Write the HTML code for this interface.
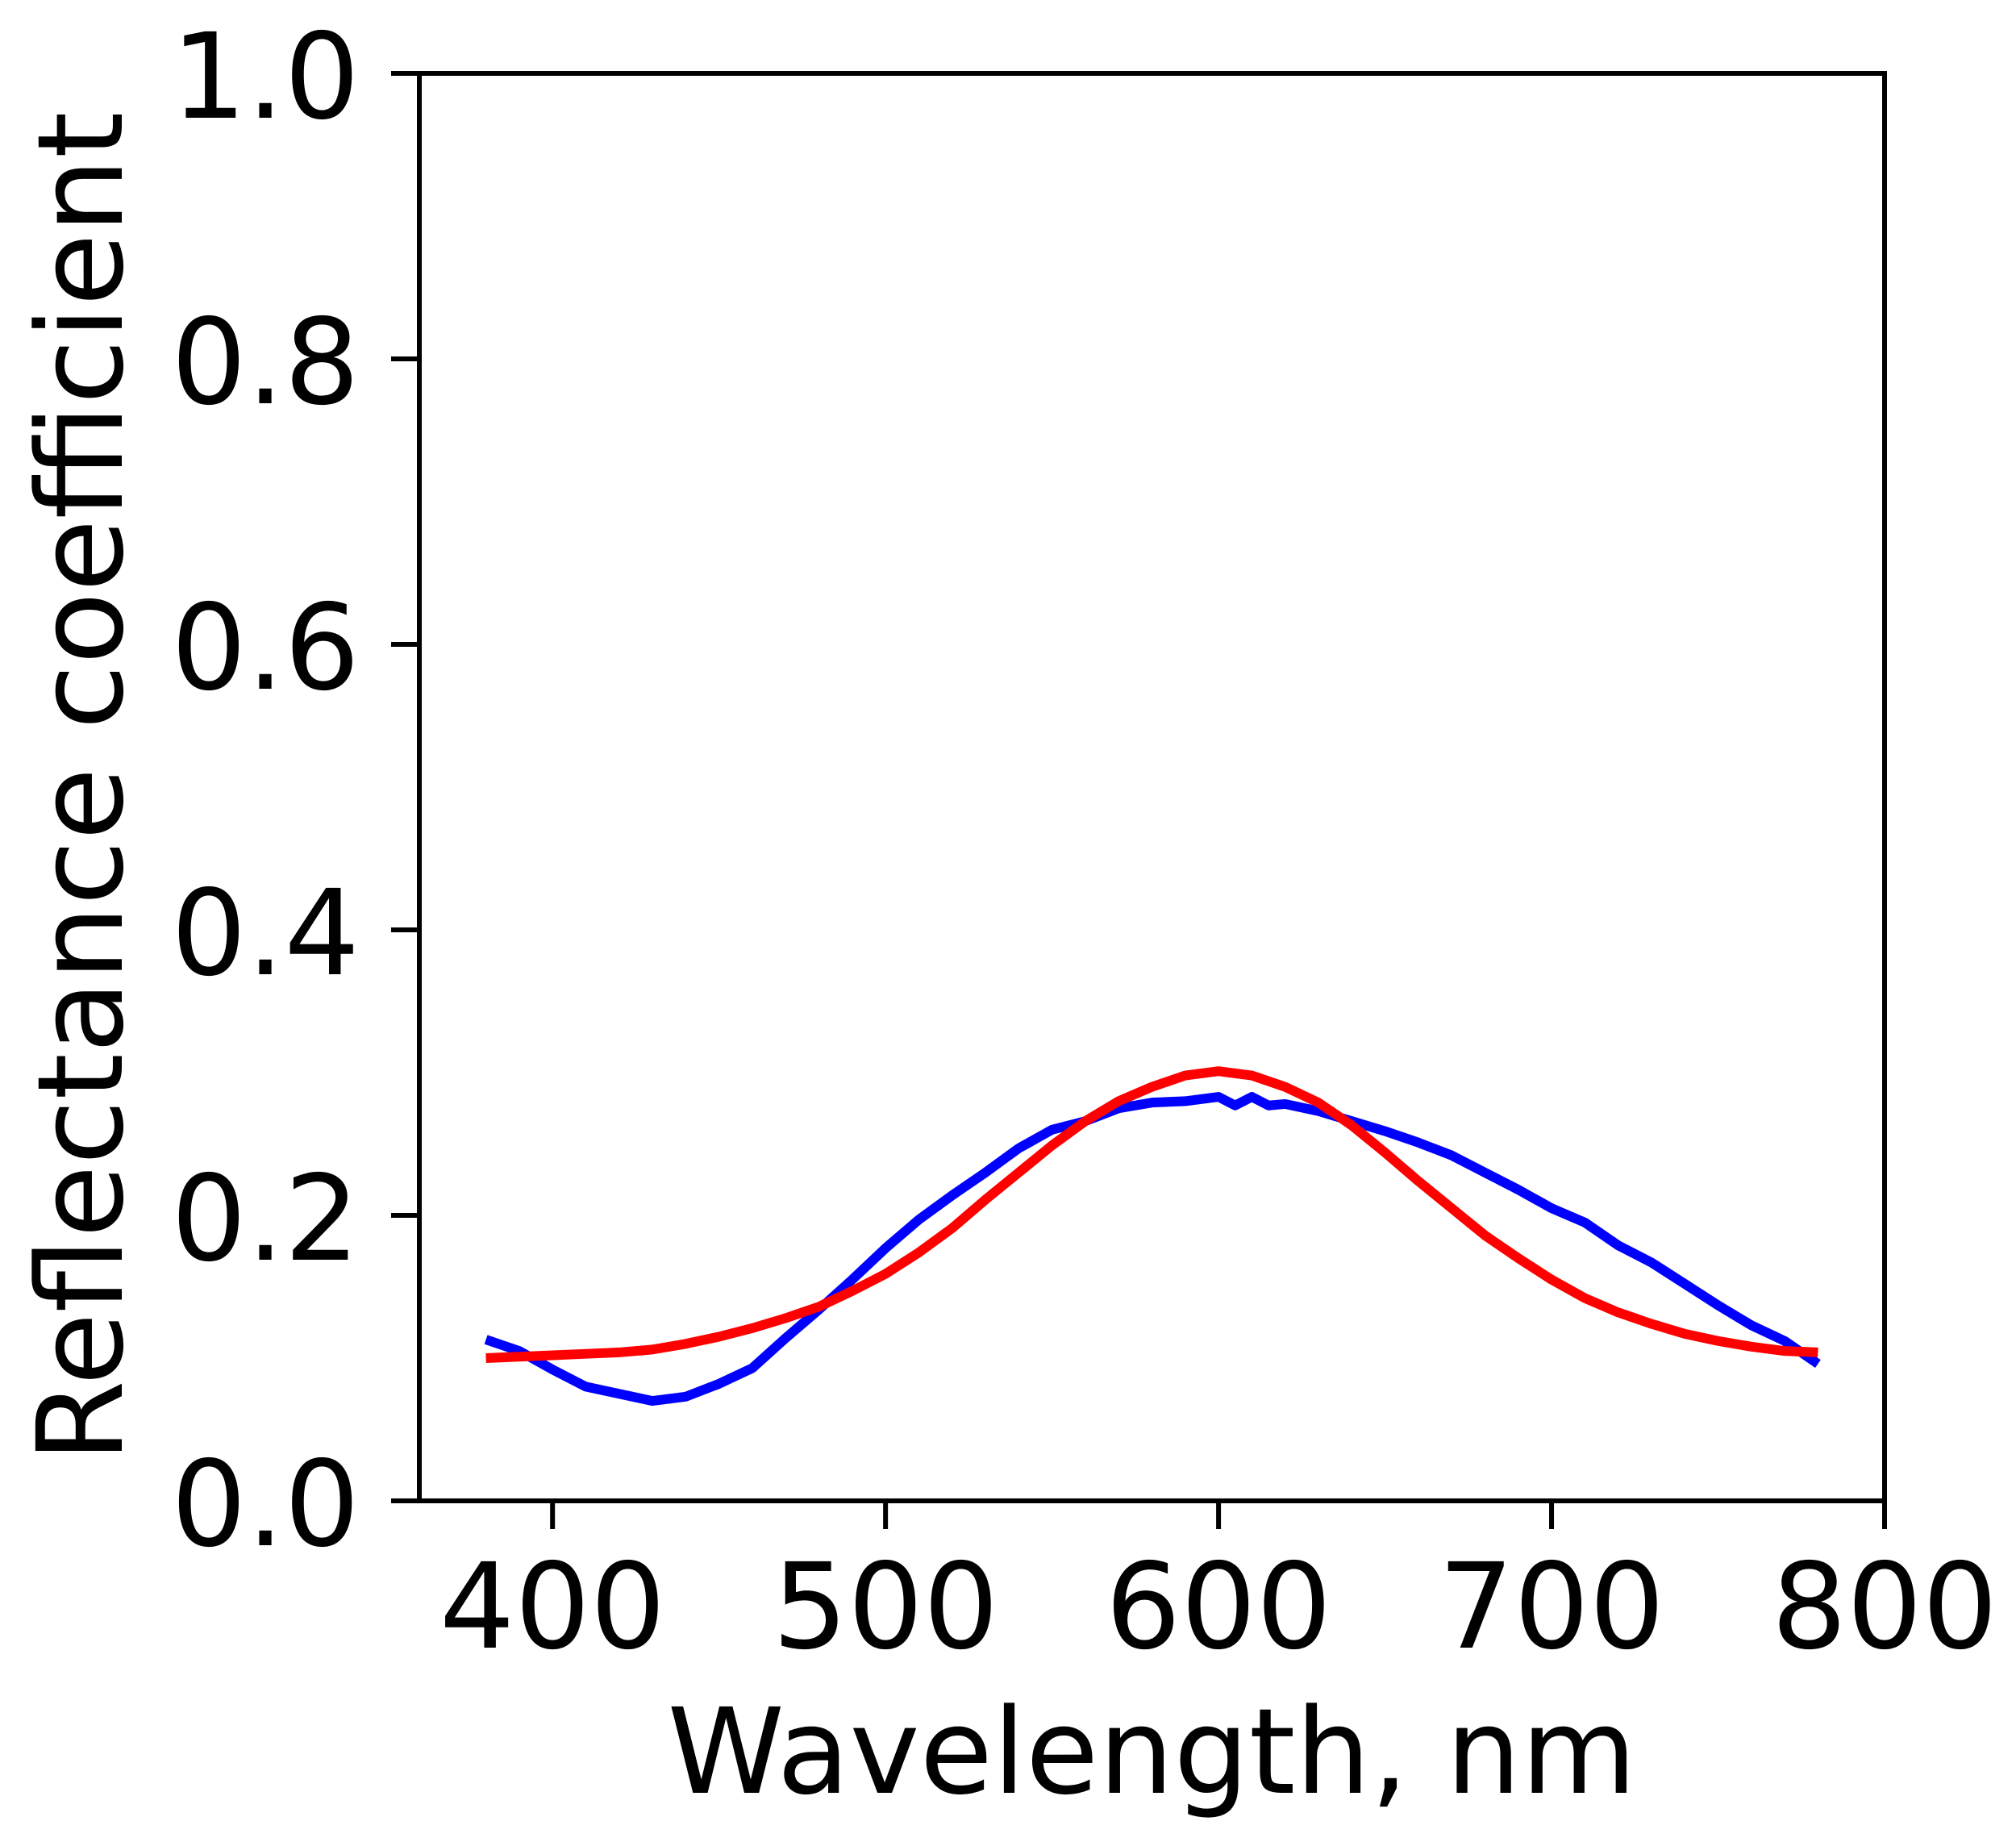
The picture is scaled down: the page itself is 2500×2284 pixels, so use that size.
<!DOCTYPE html>
<html><head><meta charset="utf-8"><style>
html,body{margin:0;padding:0;background:#fff;}
svg{display:block;}
text{font-family:"DejaVu Sans","Liberation Sans",sans-serif;fill:#000;}
</style></head><body>
<svg id="chart" width="2500" height="2284" viewBox="0 0 2500 2284" xmlns="http://www.w3.org/2000/svg">
<g id="plot"></g>
</svg>
<script>
const blueWl = [380,390,400,410,420,430,440,450,460,470,480,490,500,510,520,530,540,550,560,570,580,590,600,605,610,615,620,630,640,650,660,670,680,690,700,710,720,730,740,750,760,770,780];
const blueR = [0.113,0.105,0.092,0.080,0.075,0.070,0.073,0.082,0.093,0.114,0.134,0.155,0.177,0.197,0.214,0.230,0.247,0.260,0.266,0.275,0.279,0.280,0.283,0.277,0.283,0.277,0.278,0.273,0.266,0.259,0.251,0.242,0.230,0.218,0.205,0.195,0.179,0.167,0.152,0.137,0.123,0.112,0.096];
const redWl = [380,390,400,410,420,430,440,450,460,470,480,490,500,510,520,530,540,550,560,570,580,590,600,610,620,630,640,650,660,670,680,690,700,710,720,730,740,750,760,770,780];
const redR = [0.100,0.101,0.102,0.103,0.104,0.106,0.110,0.115,0.121,0.128,0.136,0.147,0.159,0.174,0.191,0.211,0.230,0.249,0.266,0.280,0.290,0.298,0.301,0.298,0.290,0.279,0.263,0.244,0.224,0.205,0.186,0.170,0.155,0.142,0.132,0.124,0.117,0.112,0.108,0.105,0.104];
const xTicks = [400,500,600,700,800];
const yTicks = [0.0,0.2,0.4,0.6,0.8,1.0];
const yTickLabels = ["0.0","0.2","0.4","0.6","0.8","1.0"];

const L=520,R=2337,T=91,B=1861,xMin=360,xMax=800;
const sx=v=>L+(v-xMin)/(xMax-xMin)*(R-L);
const sy=v=>B-v*(B-T);
const NS="http://www.w3.org/2000/svg";
const g=document.getElementById('plot');
function mk(tag,attrs){const e=document.createElementNS(NS,tag);for(const k in attrs)e.setAttribute(k,attrs[k]);g.appendChild(e);return e;}

function series(xs,ys,color,name){
  const p=mk('polyline',{points:xs.map((x,i)=>sx(x)+','+sy(ys[i])).join(' '),fill:'none',stroke:color,'stroke-width':12,'stroke-linejoin':'round'});
  
  
}
series(blueWl,blueR,'#0000ff','measured-reflectance-line');
series(redWl,redR,'#ff0000','fitted-reflectance-line');

const frame=mk('rect',{x:L,y:T,width:R-L,height:B-T,fill:'none',stroke:'#000','stroke-width':6});



xTicks.forEach(v=>{
  const t=mk('line',{x1:sx(v),x2:sx(v),y1:B,y2:B+35,stroke:'#000','stroke-width':6});
  
  
  const l=mk('text',{x:sx(v),y:2043,'text-anchor':'middle','font-size':147});
  l.textContent=v;
  
  
});
yTicks.forEach((v,i)=>{
  const t=mk('line',{x1:L-35,x2:L,y1:sy(v),y2:sy(v),stroke:'#000','stroke-width':6});
  
  
  const l=mk('text',{x:446,y:sy(v)+55,'text-anchor':'end','font-size':147});
  l.textContent=yTickLabels[i];
  
  
});
const xl=mk('text',{x:(L+R)/2,y:2223,'text-anchor':'middle','font-size':147});
xl.textContent='Wavelength, nm';


const yl=mk('text',{x:0,y:0,'text-anchor':'middle','font-size':147,transform:'translate(151,976) rotate(-90)'});
yl.textContent='Reflectance coefficient';


</script>
</body></html>
